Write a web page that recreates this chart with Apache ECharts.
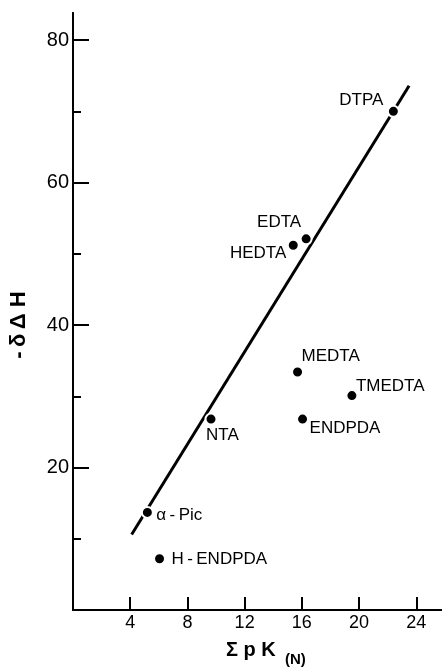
<!DOCTYPE html>
<html>
<head>
<meta charset="utf-8">
<script src="https://cdn.jsdelivr.net/npm/echarts@6/dist/echarts.min.js"></script>
<style>
  html, body { margin: 0; padding: 0; background: #fff; }
  #chart { width: 442px; height: 668px; }
</style>
</head>
<body>
<div id="chart"></div>
<script>
// Chelating ligands: sum of nitrogen pK values vs. -δΔH
const compounds = ['DTPA', 'EDTA', 'HEDTA', 'MEDTA', 'TMEDTA', 'ENDPDA', 'NTA', 'α-Pic', 'H-ENDPDA'];
const sumPK     = [22.4, 16.3, 15.4, 15.7, 19.5, 16.05, 9.65, 5.2, 6.05];
const negDeltaH = [70.0, 52.1, 51.2, 33.4, 30.1, 26.8, 26.8, 13.7, 7.2];

// Correlation line end points
const fitLineX = [4.1, 23.5];
const fitLineY = [10.6, 73.6];

// Axis ticks
const xTickValues = [4, 8, 12, 16, 20, 24];
const yTickValues = [20, 40, 60, 80];
const yMinorTickValues = [10, 30, 50, 70];

// Where each compound's name sits relative to its dot
const labelPlacement = {
  'DTPA':     { align: 'right', offset: [-10, -11] },
  'EDTA':     { align: 'right', offset: [-5, -17] },
  'HEDTA':    { align: 'right', offset: [-7, 8] },
  'MEDTA':    { align: 'left',  offset: [4, -16] },
  'TMEDTA':   { align: 'left',  offset: [4, -9] },
  'ENDPDA':   { align: 'left',  offset: [7, 9] },
  'NTA':      { align: 'left',  offset: [-5, 16] },
  'α-Pic':    { align: 'left',  offset: [9, 3] },
  'H-ENDPDA': { align: 'left',  offset: [12, 1] }
};

const FONT = "'Liberation Sans', Arial, Helvetica, sans-serif";
const INK = '#000';

const points = compounds.map((name, i) => ({
  name: name,
  value: [sumPK[i], negDeltaH[i]],
  label: {
    show: true,
    position: 'inside',
    align: labelPlacement[name].align,
    verticalAlign: 'middle',
    offset: labelPlacement[name].offset,
    formatter: name.replace('-', '\u2009-\u2009'),
    color: INK,
    fontFamily: FONT,
    fontSize: 17
  }
}));

const chart = echarts.init(document.getElementById('chart'), null, { renderer: 'canvas' });

const yBase = {
  type: 'value',
  min: 0,
  max: 83.8,
  position: 'left',
  splitLine: { show: false },
  axisLine: { show: true, onZero: false, lineStyle: { color: INK, width: 2 } }
};

chart.setOption({
  backgroundColor: '#ffffff',
  animation: false,
  grid: { left: 73, right: 0, top: 13, bottom: 58, outerBoundsMode: 'none' },
  xAxis: {
    type: 'value',
    min: 0,
    max: 25.8,
    splitLine: { show: false },
    axisLine: { show: true, onZero: false, lineStyle: { color: INK, width: 2 } },
    axisTick: { show: true, inside: true, length: 13, customValues: xTickValues, lineStyle: { color: INK, width: 2 } },
    axisLabel: { customValues: xTickValues, margin: 4, color: INK, fontFamily: FONT, fontSize: 18 }
  },
  yAxis: [
    Object.assign({}, yBase, {
      axisTick: { show: true, inside: true, length: 16, customValues: yTickValues, lineStyle: { color: INK, width: 2 } },
      axisLabel: { customValues: yTickValues, margin: 4, color: INK, fontFamily: FONT, fontSize: 20 }
    }),
    Object.assign({}, yBase, {
      axisTick: { show: true, inside: true, length: 8, customValues: yMinorTickValues, lineStyle: { color: INK, width: 2 } },
      axisLabel: { show: false }
    })
  ],
  series: [
    {
      type: 'line',
      data: fitLineX.map((x, i) => [x, fitLineY[i]]),
      showSymbol: false,
      symbol: 'none',
      lineStyle: { color: INK, width: 3 },
      z: 2
    },
    {
      type: 'scatter',
      data: points,
      symbol: 'circle',
      symbolSize: 11,
      itemStyle: { color: INK, opacity: 1, borderColor: '#ffffff', borderWidth: 2 },
      z: 3
    }
  ],
  graphic: [
    {
      type: 'text',
      x: 19,
      y: 325,
      rotation: Math.PI / 2,
      style: {
        text: '-\u2009δ\u2009Δ H',
        font: 'bold 22px ' + FONT,
        fill: INK,
        align: 'center',
        verticalAlign: 'middle'
      }
    },
    {
      type: 'text',
      x: 226,
      y: 650,
      style: {
        text: 'Σ p K',
        font: 'bold 20px ' + FONT,
        fill: INK,
        align: 'left',
        verticalAlign: 'middle'
      }
    },
    {
      type: 'text',
      x: 285,
      y: 660,
      style: {
        text: '(N)',
        font: 'bold 15px ' + FONT,
        fill: INK,
        align: 'left',
        verticalAlign: 'middle'
      }
    }
  ]
});
</script>
</body>
</html>
